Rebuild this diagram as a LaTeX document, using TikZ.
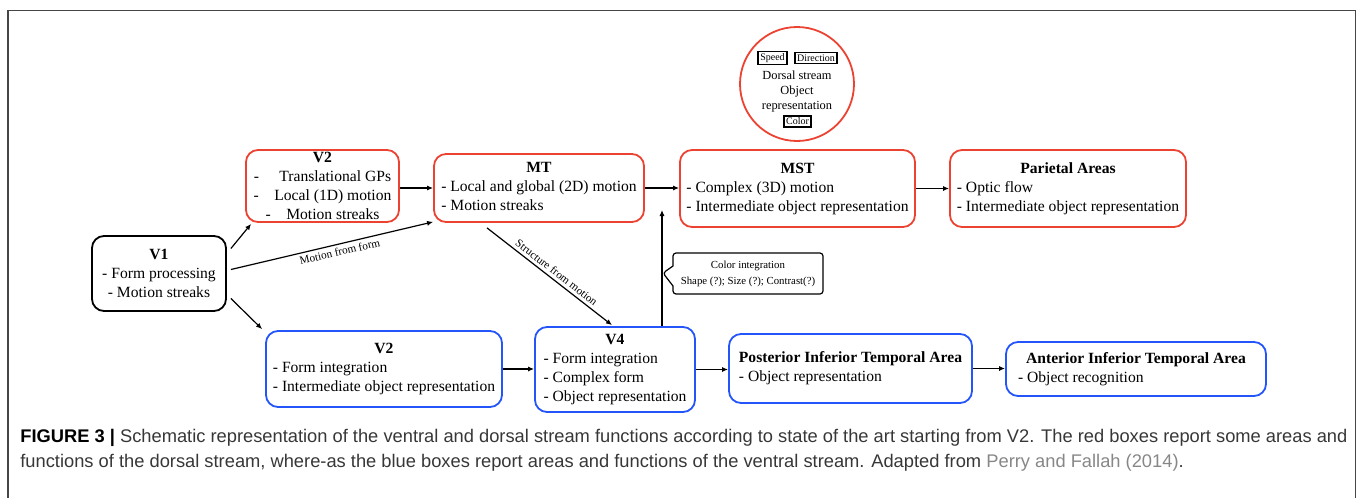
\documentclass[tikz,border=0pt]{standalone}
\usepackage{fontspec}
\setmainfont{Liberation Serif}
\newfontfamily\capfont{Liberation Sans}
\usepackage{xcolor}
\usepackage{tikz}
\usetikzlibrary{positioning,arrows.meta,shapes.callouts}

\definecolor{dorsalred}{RGB}{236,66,50}
\definecolor{ventralblue}{RGB}{35,85,250}
\definecolor{framegray}{RGB}{70,70,70}
\definecolor{captext}{RGB}{55,55,55}
\definecolor{citegray}{RGB}{135,135,135}

% title centred over a left-aligned list
\newcommand{\arealist}[2]{\begin{tabular}{@{}l@{}}\multicolumn{1}{@{}c@{}}{\textbf{#1}}\\#2\end{tabular}}

\begin{document}
\begin{tikzpicture}[x=0.5pt,y=-0.5pt,
  area/.style={rectangle, rounded corners=6pt, draw, line width=0.9pt, inner sep=1pt, font=\fontsize{7.8}{9.5}\selectfont},
  dorsal/.style={area, draw=dorsalred},
  ventral/.style={area, draw=ventralblue},
  tag/.style={draw, line width=0.8pt, inner sep=1pt, font=\fontsize{5}{6}\selectfont},
  link/.style={-{Latex[length=3pt,width=2.6pt]}, line width=0.6pt},
  edgetext/.style={font=\fontsize{5.6}{6.5}\selectfont, sloped, inner sep=1.5pt}]
\useasboundingbox (0,0) rectangle (1357,498);
\draw[framegray, line width=0.8pt] (8,498) -- (8,10.5) -- (1355.5,10.5) -- (1355.5,498);

% first level
\node[area, minimum width=67pt, minimum height=37.5pt, align=center] (v1) at (159,273.5) {\textbf{V1}\\- Form processing\\- Motion streaks};

% dorsal stream
\node[dorsal, minimum width=76.5pt, minimum height=36pt, align=center] (v2d) at (322.5,186) {\textbf{V2}\\-\hspace{1.3em}Translational GPs\\-\hspace{1em}Local (1D) motion\\-\hspace{1em}Motion streaks};
\node[dorsal, minimum width=105pt, minimum height=34pt] (mt) at (539,188) {\arealist{MT}{- Local and global (2D) motion\\- Motion streaks}};
\node[dorsal, minimum width=117.5pt, minimum height=38.5pt] (mst) at (797.5,188.5) {\arealist{MST}{- Complex (3D) motion\\- Intermediate object representation}};
\node[dorsal, minimum width=118pt, minimum height=38.5pt] (par) at (1068,188.5) {\arealist{Parietal Areas}{- Optic flow\\- Intermediate object representation}};

% dorsal stream bubble
\node[circle, draw=dorsalred, line width=0.9pt, minimum size=57pt, inner sep=0pt] (stream) at (797,84) {};
\node[tag] (speed) at (772.5,58) {Speed};
\node[tag] (direction) at (816,58) {Direction};
\node[font=\fontsize{6.2}{7.5}\selectfont, align=center, inner sep=0pt] (streamtext) at (797,92) {Dorsal stream\\Object\\representation};
\node[tag] (color) at (797.5,121.5) {Color};

% ventral stream
\node[ventral, minimum width=118pt, minimum height=38pt] (v2v) at (384,369) {\arealist{V2}{- Form integration\\- Intermediate object representation}};
\node[ventral, minimum width=80pt, minimum height=42.5pt] (v4) at (615,369.5) {\arealist{V4}{- Form integration\\- Complex form\\- Object representation}};
\node[ventral, minimum width=121.5pt, minimum height=34.5pt] (pit) at (850.5,368.5) {\arealist{Posterior Inferior Temporal Area}{- Object representation}};
\node[ventral, minimum width=130pt, minimum height=27pt] (ait) at (1136,369) {\begin{tabular}{@{}l@{}}\makebox[118pt]{\textbf{Anterior Inferior Temporal Area}}\\- Object recognition\end{tabular}};

% callout on the V4 line
\coordinate (colorup) at (662,210);
\node[rectangle callout, draw, line width=0.6pt, rounded corners=1.5pt, callout absolute pointer={(663,273)}, callout pointer width=10pt, minimum width=75pt, minimum height=20.5pt, align=center, font=\fontsize{5.4}{8}\selectfont] (colorint) at (748,273.5) {Color integration\\Shape (?); Size (?); Contrast(?)};

% connections
\draw[link] ([shift={(4,-25)}]v1.east) -- ([shift={(6,1)}]v2d.south west);
\draw[link] ([shift={(4,-4)}]v1.east) -- ([shift={(0,-1)}]mt.south west) node[edgetext, below, pos=0.53] (mff) {Motion from form};
\draw[link] ([shift={(4,25)}]v1.east) -- ([shift={(-3,-1)}]v2v.north west);
\draw[link] (v2d.east |- mt.west) -- (mt.west);
\draw[link] (mt.east) -- (mst.west |- mt.east);
\draw[link] (mst.east) -- (par.west);
\draw[link] ([shift={(-52,5)}]mt.south) -- ([shift={(-3,-1)}]v4.north) node[edgetext, above, pos=0.52] (sfm) {Structure from motion};
\draw[link] (v2v.east) -- (v4.west |- v2v.east);
\draw[link] (v4.east) -- (pit.west |- v4.east);
\draw[link] (pit.east) -- (ait.west |- pit.east);
\draw[link] (v4.north -| colorup) -- (colorup);

% caption
\node[anchor=west, inner sep=0pt, text=captext, font=\capfont\fontsize{9.15}{11}\selectfont] (capone) at (20,438) {{\color{black}\textbf{FIGURE 3 |}} Schematic representation of the ventral and dorsal stream functions according to state of the art starting from V2. The red boxes report some areas and};
\node[anchor=west, inner sep=0pt, text=captext, font=\capfont\fontsize{9.15}{11}\selectfont] (captwo) at (20,463) {functions of the dorsal stream, where-as the blue boxes report areas and functions of the ventral stream. Adapted from {\color{citegray}Perry and Fallah (2014)}.};
\end{tikzpicture}
\end{document}
